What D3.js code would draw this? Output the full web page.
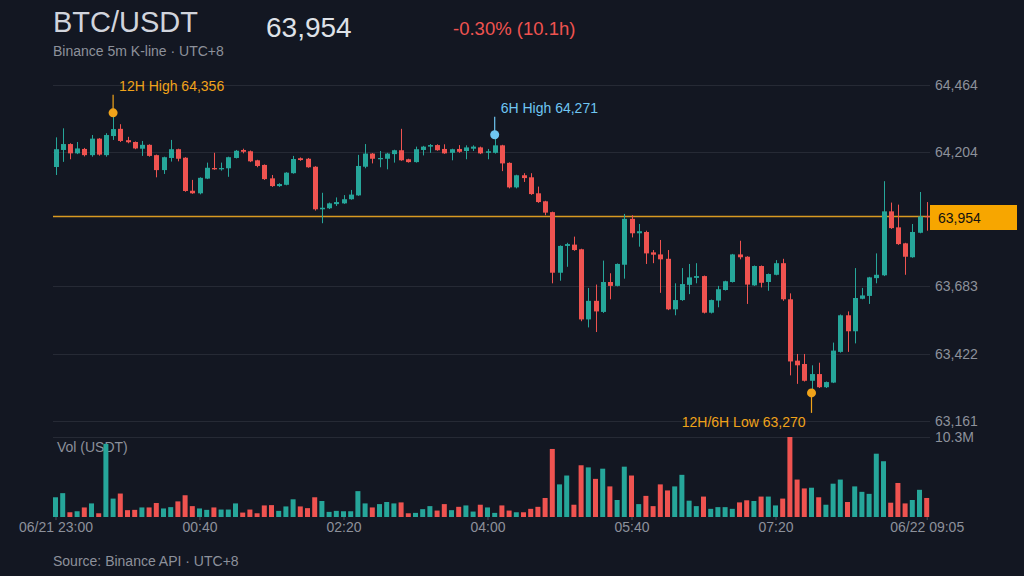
<!DOCTYPE html>
<html>
<head>
<meta charset="utf-8">
<script src="https://cdn.jsdelivr.net/npm/d3@7"></script>
<style>
  html, body { margin: 0; padding: 0; background: #131722; }
  figure { margin: 0; }
  svg { display: block; font-family: "Liberation Sans", Arial, sans-serif; }
</style>
</head>
<body>
<figure id="kline"></figure>
<script>
// 5m candles, 06/21 23:00 -> 06/22 09:05 (UTC+8)
const opens = [64146, 64212, 64235, 64199, 64216, 64192, 64256, 64192, 64266, 64294,
  64250, 64243, 64217, 64232, 64192, 64134, 64181, 64215, 64182, 64054,
  64044, 64101, 64142, 64137, 64141, 64181, 64212, 64207, 64172, 64154,
  64102, 64072, 64077, 64122, 64180, 64178, 64147, 63982, 63986, 64002,
  64005, 64021, 64036, 64147, 64198, 64176, 64178, 64196, 64211, 64176,
  64165, 64212, 64225, 64231, 64216, 64201, 64216, 64208, 64217, 64222,
  64201, 64201, 64230, 64162, 64067, 64114, 64106, 64044, 64013, 63971,
  63736, 63840, 63845, 63827, 63555, 63627, 63584, 63700, 63685, 63767,
  63945, 63889, 63894, 63815, 63807, 63790, 63594, 63630, 63689, 63716,
  63723, 63581, 63628, 63669, 63700, 63807, 63798, 63687, 63762, 63700,
  63728, 63773, 63633, 63395, 63382, 63317, 63343, 63292, 63310, 63429,
  63571, 63509, 63635, 63646, 63715, 63726, 63974, 63912, 63850, 63796,
  63891, 63955];
const highs = [64261, 64296, 64238, 64243, 64220, 64270, 64258, 64277, 64356, 64312,
  64263, 64245, 64247, 64234, 64194, 64186, 64251, 64217, 64184, 64096,
  64106, 64163, 64201, 64163, 64186, 64212, 64217, 64210, 64174, 64156,
  64115, 64083, 64126, 64189, 64183, 64181, 64149, 64046, 64008, 64028,
  64037, 64057, 64193, 64235, 64200, 64208, 64201, 64213, 64294, 64178,
  64225, 64228, 64235, 64234, 64234, 64217, 64231, 64230, 64230, 64225,
  64216, 64271, 64232, 64164, 64116, 64122, 64122, 64070, 64015, 63973,
  63842, 63852, 63876, 63829, 63677, 63690, 63783, 63734, 63772, 63964,
  63959, 63925, 63899, 63824, 63863, 63824, 63695, 63754, 63770, 63773,
  63725, 63632, 63685, 63705, 63809, 63860, 63800, 63764, 63764, 63733,
  63785, 63790, 63656, 63421, 63421, 63377, 63387, 63314, 63465, 63574,
  63586, 63754, 63677, 63720, 63811, 64091, 64008, 64000, 63852, 63925,
  64049, 64010];
const lows = [64115, 64166, 64176, 64196, 64187, 64186, 64190, 64186, 64251, 64243,
  64238, 64215, 64189, 64186, 64106, 64119, 64167, 64168, 64050, 64042,
  64040, 64099, 64135, 64132, 64108, 64179, 64199, 64165, 64145, 64096,
  64069, 64069, 64075, 64120, 64170, 64143, 63977, 63928, 63983, 63995,
  64003, 64019, 64034, 64141, 64160, 64145, 64137, 64163, 64170, 64163,
  64163, 64191, 64201, 64209, 64197, 64172, 64201, 64176, 64208, 64196,
  64176, 64198, 64130, 64063, 64063, 64088, 64038, 64007, 63959, 63695,
  63705, 63759, 63821, 63548, 63524, 63506, 63580, 63633, 63683, 63713,
  63873, 63837, 63770, 63773, 63658, 63591, 63571, 63627, 63653, 63695,
  63578, 63578, 63602, 63667, 63698, 63788, 63615, 63685, 63679, 63666,
  63726, 63627, 63338, 63305, 63314, 63270, 63289, 63289, 63308, 63426,
  63429, 63462, 63633, 63615, 63695, 63723, 63906, 63844, 63728, 63794,
  63889, 63899];
const closes = [64215, 64235, 64199, 64218, 64192, 64256, 64194, 64270, 64293, 64247,
  64242, 64218, 64232, 64189, 64134, 64184, 64215, 64178, 64053, 64044,
  64104, 64143, 64137, 64142, 64184, 64209, 64205, 64168, 64150, 64099,
  64072, 64080, 64124, 64177, 64173, 64145, 63982, 63988, 64005, 64010,
  64021, 64039, 64150, 64198, 64178, 64181, 64198, 64211, 64172, 64165,
  64215, 64225, 64231, 64211, 64199, 64215, 64205, 64222, 64225, 64199,
  64207, 64230, 64160, 64067, 64114, 64103, 64041, 64010, 63969, 63736,
  63840, 63847, 63824, 63555, 63627, 63586, 63700, 63685, 63770, 63945,
  63889, 63897, 63811, 63806, 63788, 63594, 63630, 63692, 63718, 63723,
  63581, 63630, 63672, 63703, 63807, 63796, 63690, 63762, 63697, 63731,
  63773, 63633, 63392, 63377, 63317, 63343, 63292, 63312, 63434, 63571,
  63509, 63638, 63648, 63718, 63728, 63974, 63909, 63847, 63798, 63894,
  63954, 63954];
// quote volume, million USDT
const volumes = [2.54, 3.07, 0.61, 0.74, 1.23, 1.75, 0.48, 9.42, 2.37, 3.02,
  0.88, 0.92, 1.23, 1.23, 1.80, 1.10, 1.27, 2.01, 2.80, 1.40,
  1.10, 0.92, 1.23, 0.96, 0.96, 1.75, 0.57, 0.96, 0.48, 1.49,
  1.53, 0.79, 1.36, 2.28, 1.36, 1.14, 2.54, 2.06, 0.66, 0.79,
  0.74, 0.74, 3.33, 1.75, 1.23, 1.66, 1.93, 1.75, 1.88, 0.48,
  0.53, 1.01, 1.40, 0.83, 1.66, 0.88, 1.31, 1.49, 0.70, 1.58,
  1.23, 0.53, 1.49, 0.83, 0.61, 0.61, 1.05, 1.31, 2.45, 8.76,
  4.20, 5.34, 1.58, 6.66, 6.39, 4.91, 6.22, 3.94, 2.19, 6.48,
  5.34, 1.66, 2.72, 1.40, 4.20, 3.42, 3.94, 5.43, 2.10, 1.40,
  2.63, 1.05, 1.27, 1.27, 1.05, 1.88, 2.15, 2.06, 2.63, 2.63,
  1.49, 2.37, 10.3, 4.82, 3.68, 3.77, 2.54, 1.58, 4.29, 4.82,
  1.93, 3.94, 3.24, 2.98, 8.15, 7.18, 1.84, 4.38, 1.75, 2.19,
  3.50, 2.45];

const priceTicks = [63161, 63422, 63683, 64204, 64464];
const volTicks = [10.3];
const timeTickIndex = [0, 20, 40, 60, 80, 100, 121];
const timeTickLabels = ["06/21 23:00", "00:40", "02:20", "04:00", "05:40", "07:20", "06/22 09:05"];
const lastPrice = 63954;
const changeText = "-0.30% (10.1h)";

// annotated extremes: candle index, price, label
const markIndex = [8, 61, 105];
const markPrice = [64356, 64271, 63270];
const markLabel = ["12H High 64,356", "6H High 64,271", "12H/6H Low 63,270"];

class KlineChart {
  constructor() {
    this.width = 1024;
    this.height = 576;
    this.left = 55.5;
    this.right = 926.7;
    this.gridRight = 930;
    this.up = "#26a69a";
    this.down = "#ef5350";
    this.orange = "#f0a31a";
    this.blue = "#6fc6f2";
    this.grid = "#262a35";
    this.muted = "#8d919b";
  }

  init() {
    this.svg = d3.select("figure#kline").append("svg")
      .attr("width", this.width)
      .attr("height", this.height)
      .attr("viewBox", `0 0 ${this.width} ${this.height}`);
    this.svg.append("rect").attr("width", this.width).attr("height", this.height).attr("fill", "#131722");

    const t0 = new Date(2024, 5, 21, 23, 0);
    this.times = opens.map((d, i) => new Date(t0.getTime() + i * 5 * 60000));
    this.x = d3.scaleTime()
      .domain([this.times[0], this.times[this.times.length - 1]])
      .range([this.left, this.right]);
    this.y = d3.scaleLinear().domain([63161, 64464]).range([421, 85]);
    this.v = d3.scaleLinear().domain([0, 10.3]).range([517, 437]);
  }

  draw() {
    this.drawHeader();
    this.drawGrid();
    this.drawLastPriceLine();
    this.drawVolume();
    this.drawCandles();
    this.drawMarks();
    this.drawLastPriceLabel();
    this.drawTimeAxis();
  }

  drawHeader() {
    const svg = this.svg;
    svg.append("text").attr("x", 53).attr("y", 32).text("BTC/USDT")
      .attr("fill", "#d1d4dc").style("font-size", "29px");
    svg.append("text").attr("x", 266).attr("y", 37).text(d3.format(",")(lastPrice))
      .attr("fill", "#dfe2e8").style("font-size", "28px");
    svg.append("text").attr("x", 453).attr("y", 35).text(changeText)
      .attr("fill", this.down).style("font-size", "18.5px");
    svg.append("text").attr("x", 53).attr("y", 56).text("Binance 5m K-line · UTC+8")
      .attr("fill", this.muted).style("font-size", "14px");
    svg.append("text").attr("x", 53).attr("y", 566).text("Source: Binance API · UTC+8")
      .attr("fill", this.muted).style("font-size", "14px");
  }

  drawGrid() {
    const g = this.svg.append("g");
    g.selectAll("line.pg").data(priceTicks).enter().append("line")
      .attr("x1", 53).attr("x2", this.gridRight)
      .attr("y1", (d) => Math.round(this.y(d)) + 0.5).attr("y2", (d) => Math.round(this.y(d)) + 0.5)
      .attr("stroke", this.grid);
    g.selectAll("line.vg").data(volTicks).enter().append("line")
      .attr("x1", 53).attr("x2", this.gridRight)
      .attr("y1", (d) => Math.round(this.v(d)) + 0.5).attr("y2", (d) => Math.round(this.v(d)) + 0.5)
      .attr("stroke", this.grid);

    const priceAxis = d3.axisRight(this.y).tickValues(priceTicks)
      .tickFormat(d3.format(",.0f")).tickSize(0).tickPadding(0);
    const pa = this.svg.append("g").attr("transform", "translate(935,0)").call(priceAxis);
    pa.select(".domain").remove();
    pa.selectAll("text").attr("fill", this.muted).style("font-size", "14px")
      .style("font-family", "Liberation Sans, Arial, sans-serif");

    const volAxis = d3.axisRight(this.v).tickValues(volTicks)
      .tickFormat((d) => d + "M").tickSize(0).tickPadding(0);
    const va = this.svg.append("g").attr("transform", "translate(935,0)").call(volAxis);
    va.select(".domain").remove();
    va.selectAll("text").attr("fill", this.muted).style("font-size", "14px")
      .style("font-family", "Liberation Sans, Arial, sans-serif");

    this.svg.append("text").attr("x", 57).attr("y", 452).text("Vol (USDT)")
      .attr("fill", this.muted).style("font-size", "14px");
  }

  drawVolume() {
    const bw = 5;
    this.svg.append("g").selectAll("rect").data(volumes).enter().append("rect")
      .attr("x", (d, i) => this.x(this.times[i]) - bw / 2)
      .attr("y", (d) => this.v(d))
      .attr("width", bw)
      .attr("height", (d) => this.v(0) - this.v(d))
      .attr("fill", (d, i) => closes[i] >= opens[i] ? this.up : this.down);
  }

  drawCandles() {
    const bw = 5;
    const candles = opens.map((o, i) => ({ t: this.times[i], o: o, h: highs[i], l: lows[i], c: closes[i] }));
    const g = this.svg.append("g").selectAll("g").data(candles).enter().append("g");
    g.append("line")
      .attr("x1", (d) => Math.round(this.x(d.t)) + 0.5).attr("x2", (d) => Math.round(this.x(d.t)) + 0.5)
      .attr("y1", (d) => this.y(d.h)).attr("y2", (d) => this.y(d.l))
      .attr("stroke", (d) => d.c >= d.o ? this.up : this.down)
      .attr("stroke-width", 1);
    g.append("rect")
      .attr("x", (d) => Math.round(this.x(d.t)) + 0.5 - bw / 2)
      .attr("y", (d) => this.y(Math.max(d.o, d.c)))
      .attr("width", bw)
      .attr("height", (d) => Math.max(1, Math.abs(this.y(d.o) - this.y(d.c))))
      .attr("fill", (d) => d.c >= d.o ? this.up : this.down);
  }

  drawMarks() {
    const svg = this.svg;
    const colors = [this.orange, this.blue, this.orange];
    markIndex.forEach((idx, k) => {
      const cx = this.x(this.times[idx]);
      const cy = this.y(markPrice[k]);
      const isLow = k === 2;
      svg.append("line").attr("x1", cx).attr("x2", cx)
        .attr("y1", cy).attr("y2", isLow ? cy + 20 : cy - 18)
        .attr("stroke", colors[k]).attr("stroke-width", 1.2);
      svg.append("circle").attr("cx", cx).attr("cy", cy).attr("r", 4.5)
        .attr("fill", colors[k]);
      svg.append("text")
        .attr("x", isLow ? cx - 6 : cx + 6)
        .attr("y", isLow ? cy + 34 : cy - 22)
        .attr("text-anchor", isLow ? "end" : "start")
        .text(markLabel[k])
        .attr("fill", colors[k]).style("font-size", "14px");
    });
  }

  // thin golden line at the last price, under the candles
  drawLastPriceLine() {
    const y = this.y(lastPrice);
    this.svg.append("line").attr("x1", 53).attr("x2", 930)
      .attr("y1", y).attr("y2", y)
      .attr("stroke", "#d99a22").attr("stroke-width", 1.4);
  }

  drawLastPriceLabel() {
    const y = Math.round(this.y(lastPrice)) + 0.5;
    this.svg.append("rect").attr("x", 930).attr("y", y - 12.5).attr("width", 87).attr("height", 25)
      .attr("fill", "#f7a600");
    this.svg.append("text").attr("x", 938).attr("y", y + 5).text(d3.format(",")(lastPrice))
      .attr("fill", "#111").style("font-size", "14px");
  }

  drawTimeAxis() {
    const axis = d3.axisBottom(this.x)
      .tickValues(timeTickIndex.map((i) => this.times[i]))
      .tickFormat((d, i) => timeTickLabels[i])
      .tickSize(3).tickPadding(2);
    const ga = this.svg.append("g").attr("transform", "translate(0,517)").call(axis);
    ga.select(".domain").remove();
    ga.selectAll("line").attr("stroke", "#4a4e58");
    ga.selectAll("text").attr("fill", this.muted).style("font-size", "14px")
      .style("font-family", "Liberation Sans, Arial, sans-serif");
  }
}

const chart = new KlineChart();
chart.init();
chart.draw();
</script>
</body>
</html>
